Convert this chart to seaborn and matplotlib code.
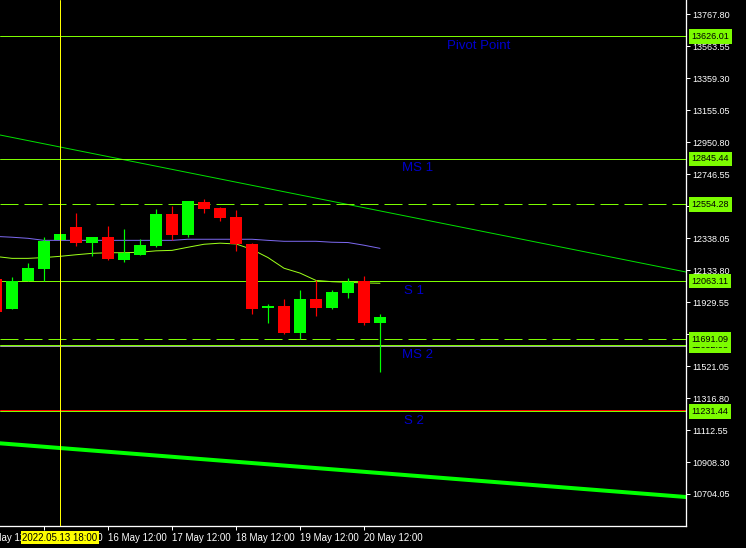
import matplotlib
matplotlib.use("Agg")
import matplotlib.pyplot as plt
import matplotlib.transforms as mtransforms
import numpy as np
import pandas as pd
import seaborn as sns

# ---------------- data ----------------
candle_idx = list(range(25))
opens = [12077, 11887, 12064, 12143, 12324, 12409, 12309, 12345, 12200, 12232,
         12290, 12492, 12360, 12569, 12531, 12473, 12301, 11892, 11905, 11732,
         11949, 11892, 11988, 12064, 11796]
highs = [12080, 12090, 12179, 12345, 12365, 12499, 12345, 12416, 12397, 12333,
         12524, 12543, 12575, 12588, 12537, 12518, 12307, 11918, 11949, 12007,
         12071, 12007, 12084, 12096, 11854]
lows = [11866, 11887, 12064, 12064, 12324, 12290, 12226, 12200, 12188, 12232,
        12283, 12328, 12347, 12499, 12448, 12256, 11854, 11796, 11726, 11694,
        11841, 11886, 11956, 11783, 11483]
closes = [11866, 12062, 12147, 12320, 12365, 12309, 12345, 12205, 12243, 12294,
          12492, 12360, 12575, 12524, 12467, 12301, 11886, 11905, 11732, 11949,
          11892, 11994, 12058, 11796, 11834]

ma_slow = [12349, 12344, 12337, 12324, 12324, 12324, 12324, 12324, 12324, 12324,
           12324, 12324, 12331, 12331, 12331, 12331, 12331, 12324, 12318, 12318,
           12318, 12312, 12310, 12293, 12273]
ma_fast = [12221, 12209, 12209, 12214, 12222, 12232, 12241, 12245, 12245, 12248,
           12257, 12260, 12280, 12299, 12306, 12301, 12266, 12214, 12146, 12115,
           12068, 12060, 12056, 12052, 12050]

tick_pos = [3, 7, 11, 15, 19, 23]
tick_labels = ["13 May 12:00", "16 May 12:00", "17 May 12:00", "18 May 12:00",
               "19 May 12:00", "20 May 12:00"]
prev_tick_pos = -1
prev_tick_label = "12 May 12:00"

ytick_vals = [13767.80, 13563.55, 13359.30, 13155.05, 12950.80, 12746.55, 12542.30,
              12338.05, 12133.80, 11929.55, 11725.30, 11521.05, 11316.80, 11112.55,
              10908.30, 10704.05]

# level lines: (price, style, label text, label x index)
level_prices = [13626.01, 12845.44, 12554.28, 12063.11, 11691.09, 11652.98, 11231.44]
level_styles = ["solid", "solid", "dashed", "solid", "dashed", "solid", "solid"]
level_names = ["Pivot Point", "MS 1", "", "S 1", "", "MS 2", "S 2"]
level_name_x = [28.19, 25.4, 0, 25.5, 0, 25.4, 25.5]
grey_line_price = 11647.3
red_line_price = 11238.5

cursor_idx = 4
cursor_label = "2022.05.13 18:00"

trend_x = [0.25, 43.125]
trend_thin = [12996.9, 12121.8]
trend_thick = [11027.7, 10684.8]

xlim = (0.25, 43.125)
ylim = (10499.6, 13859.1)

# ---------------- style ----------------
sns.set_theme(style="dark")
plt.rcParams["font.family"] = ["Liberation Sans", "DejaVu Sans"]
plt.rcParams["lines.scale_dashes"] = False

W, H = 746, 548
fig = plt.figure(figsize=(W / 100, H / 100), dpi=100, facecolor="black")
ax = fig.add_axes([0, 22 / H, 686 / W, 526 / H])
ax.set_facecolor("black")

PX = 0.72  # one pixel in points
LEVEL = "#7CFC00"

# trend lines
tdf = pd.DataFrame({"x": trend_x, "thin": trend_thin, "thick": trend_thick})
sns.lineplot(data=tdf, x="x", y="thin", ax=ax, color="#00DD00", lw=PX, zorder=2)
sns.lineplot(data=tdf, x="x", y="thick", ax=ax, color="#00FF00", lw=4 * PX, zorder=2)

# levels
for p, st in zip(level_prices, level_styles):
    ls = (0, (18 * PX, 6 * PX)) if st == "dashed" else "-"
    ax.axhline(p, color=LEVEL, lw=PX, ls=ls, zorder=2)
ax.axhline(grey_line_price, color="#A0A0A0", lw=PX, zorder=2)
ax.axhline(red_line_price, color="#FF0000", lw=PX, zorder=2.1)

# moving averages
mdf = pd.DataFrame({"i": candle_idx, "slow": ma_slow, "fast": ma_fast})
sns.lineplot(data=mdf, x="i", y="slow", ax=ax, color="#7B68EE", lw=PX, zorder=3)
sns.lineplot(data=mdf, x="i", y="fast", ax=ax, color="#9CFF1A", lw=PX, zorder=3)

# candles
o = np.array(opens); c = np.array(closes)
up = c >= o
cols = np.where(up, "#00FF00", "#FF0000")
ax.vlines(candle_idx, lows, highs, colors=cols, lw=PX * 1.2, zorder=4)
bottoms = np.minimum(o, c)
heights = np.maximum(np.abs(c - o), 8)
ax.bar(candle_idx, heights, bottom=bottoms, width=0.69, color=cols, lw=0, zorder=5)

# cursor vertical line
ax.axvline(cursor_idx, color="#FFFF00", lw=PX, zorder=6)

# level names
for name, p, xi in zip(level_names, level_prices, level_name_x):
    if name:
        ax.annotate(name, xy=(xi, p), xytext=(0, -2.5), textcoords="offset points",
                    ha="left", va="top", fontsize=9.5, color="#0000CD", zorder=7)

ax.set_xlim(*xlim)
ax.set_ylim(*ylim)
ax.set_xlabel("")
ax.set_ylabel("")
ax.grid(False)

# axes styling
for s in ["top", "left"]:
    ax.spines[s].set_visible(False)
for s in ["right", "bottom"]:
    ax.spines[s].set_visible(True)
    ax.spines[s].set_color("white")
    ax.spines[s].set_linewidth(PX * 1.3)

ax.yaxis.tick_right()
ax.set_yticks(ytick_vals)
ax.set_yticklabels([f"{v:.2f}" for v in ytick_vals])
ax.set_xticks(tick_pos)
ax.set_xticklabels(tick_labels)
ax.tick_params(axis="both", colors="white", direction="out", length=4 * PX,
               width=PX, labelsize=6.5, pad=1.5, left=False, bottom=True, right=True)
ax.tick_params(axis="x", labelsize=7, pad=2)
for lab in ax.get_xticklabels():
    lab.set_ha("left")
    lab.set_x(0)

# previous-day label partly cut off at the left
xtr = mtransforms.blended_transform_factory(ax.transData, ax.transAxes)
ax.text(prev_tick_pos, -0.0125, prev_tick_label, transform=xtr, ha="left", va="top",
        fontsize=7, color="white", clip_on=False, zorder=8)

# cursor time label
ax.text(cursor_idx, -0.0125, cursor_label, transform=xtr, ha="center", va="top",
        fontsize=7, color="black", clip_on=False, zorder=9,
        bbox=dict(boxstyle="square,pad=0.15", fc="#FFFF00", ec="none"))

# price label boxes on the right
ytr = mtransforms.blended_transform_factory(ax.transAxes, ax.transData)
order = [0, 1, 2, 3, 5, 4, 6]
for k, j in enumerate(order):
    p = level_prices[j]
    ax.text(1 + 5.5 / 686, p, f"{p:.2f}", transform=ytr, ha="left", va="center",
            fontsize=6.5, color="black", clip_on=False, zorder=10 + k,
            bbox=dict(boxstyle="square,pad=0.3", fc=LEVEL, ec="none"))

fig.savefig("out.png", dpi=100, facecolor="black")
